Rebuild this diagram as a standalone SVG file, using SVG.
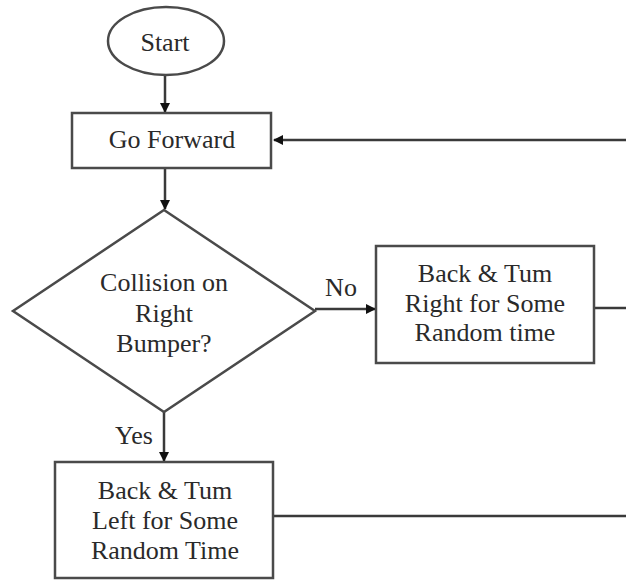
<svg xmlns="http://www.w3.org/2000/svg" width="626" height="581" viewBox="0 0 626 581">
<defs>
<style>
.s{fill:#fff;stroke:#4a4a4a;stroke-width:2.5}
text{font-family:'Liberation Serif','Times New Roman',Times,serif;font-size:26px;fill:#2a2a2a;text-anchor:middle;dominant-baseline:central}
.c{fill:none;stroke:#3a3a3a;stroke-width:2.5}
</style>
<marker id="a" markerWidth="10" markerHeight="10" refX="9" refY="5" orient="auto" markerUnits="userSpaceOnUse">
<path d="M0,0 L10,5 L0,10 Z" fill="#111"/>
</marker>
</defs>
<rect width="626" height="581" fill="#fff"/>
<g id="connectors">
<line class="c" x1="165" y1="75" x2="165" y2="112" marker-end="url(#a)"/>
<line class="c" x1="165" y1="168" x2="165" y2="209" marker-end="url(#a)"/>
<line class="c" x1="626" y1="140" x2="274" y2="140" marker-end="url(#a)"/>
<line class="c" x1="315" y1="309" x2="375" y2="309" marker-end="url(#a)"/>
<line class="c" x1="164" y1="412" x2="164" y2="461" marker-end="url(#a)"/>
<line class="c" x1="594" y1="308" x2="626" y2="308"/>
<line class="c" x1="273" y1="516" x2="626" y2="516"/>
<text x="341" y="287" font-family="Liberation Serif, serif">No</text>
<text x="134" y="435" font-family="Liberation Serif, serif">Yes</text>
</g>
<g id="start">
<ellipse class="s" cx="166" cy="41" rx="58" ry="34"/>
<text x="165" y="42" font-family="Liberation Serif, serif">Start</text>
</g>
<g id="go-forward">
<rect class="s" x="72" y="113" width="199" height="55"/>
<text x="172" y="139" font-family="Liberation Serif, serif">Go Forward</text>
</g>
<g id="decision">
<polygon class="s" points="164,210 315,311 164,412 13,311"/>
<text x="164" y="282" font-family="Liberation Serif, serif">Collision on</text>
<text x="164" y="313" font-family="Liberation Serif, serif">Right</text>
<text x="164" y="343" font-family="Liberation Serif, serif">Bumper?</text>
</g>
<g id="turn-right">
<rect class="s" x="376" y="246" width="218" height="117"/>
<text x="485" y="273" font-family="Liberation Serif, serif">Back &amp; Tum</text>
<text x="485" y="303" font-family="Liberation Serif, serif">Right for Some</text>
<text x="485" y="332" font-family="Liberation Serif, serif">Random time</text>
</g>
<g id="turn-left">
<rect class="s" x="55" y="462" width="218" height="116"/>
<text x="165" y="490" font-family="Liberation Serif, serif">Back &amp; Tum</text>
<text x="165" y="520" font-family="Liberation Serif, serif">Left for Some</text>
<text x="165" y="550" font-family="Liberation Serif, serif">Random Time</text>
</g>
</svg>
